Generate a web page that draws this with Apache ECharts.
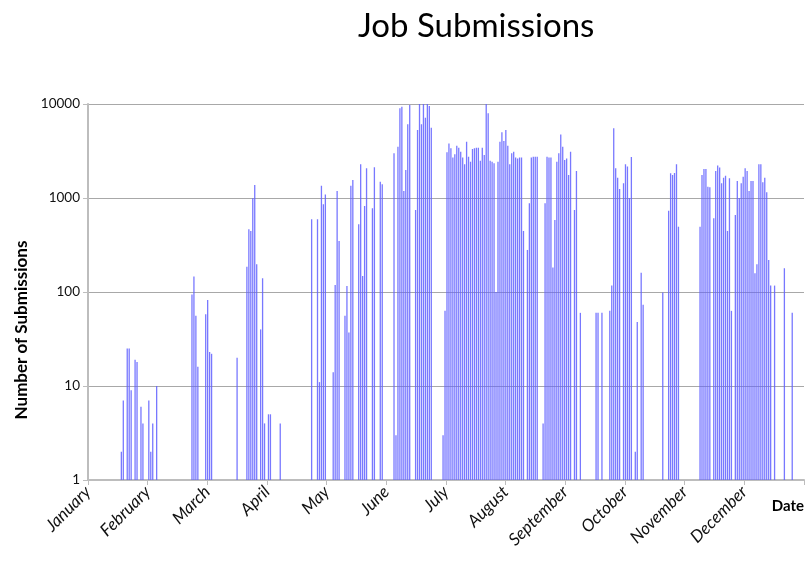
<!DOCTYPE html>
<html>
<head>
<meta charset="utf-8">
<script src="https://cdn.jsdelivr.net/npm/echarts@6/dist/echarts.min.js"></script>
<style>
  html, body { margin: 0; padding: 0; background: #fff; }
  #chart { width: 807px; height: 564px; }
</style>
</head>
<body>
<div id="chart"></div>
<script>
// Daily job submissions, one list per month: [day of month, submissions]
const jan = [[18,2],[19,7],[21,25],[22,25],[23,9],[25,19],[26,18],[28,6],[29,4]];
const feb = [[1,7],[2,2],[3,4],[5,10],[23,94],[24,146],[25,56],[26,16]];
const mar = [[2,58],[3,82],[4,23],[5,22],[18,20],[23,186],[24,464],[25,446],[26,993],[27,1375],[28,197],[30,40],[31,140]];
const apr = [[1,4],[3,5],[4,5],[9,4],[25,593],[28,593],[29,11],[30,1350]];
const may = [[1,857],[2,1090],[6,14],[7,119],[8,1186],[9,348],[12,56],[13,116],[14,37],[15,1350],[16,1550],
             [19,526],[20,2280],[21,148],[22,822],[23,2070],[26,777],[27,2130],[30,1490],[31,1397]];
const jun = [[6,2985],[7,3],[8,3515],[9,9000],[10,9370],[11,1186],[12,1985],[13,6090],[14,9760],
             [17,745],[18,5300],[19,10500],[20,6090],[21,10500],[22,7150],[23,10500],[24,9500],[25,5600]];
const jul = [[1,3],[2,63],[3,3060],[4,3800],[5,3375],[6,2690],[7,2920],[8,3600],[9,3430],[10,3110],
             [11,2690],[12,2280],[13,3975],[14,2755],[15,2435],[16,3320],[17,3375],[18,3430],[19,3430],[20,2490],
             [21,3430],[22,2865],[23,10170],[24,7950],[25,2490],[26,2435],[27,2340],[28,100],[29,2435],[30,3975],[31,5000]];
const aug = [[1,4040],[2,5290],[3,3600],[4,2280],[5,2985],[6,3110],[7,2690],[8,2630],[9,2690],[10,2690],
             [11,446],[13,280],[14,878],[15,2690],[16,2755],[17,2755],[18,2755],
             [21,4],[22,878],[23,2755],[24,2690],[25,2690],[26,182],[27,583],[28,2435],[29,2985],[30,4750],[31,3515]];
const sep = [[1,2537],[2,2630],[3,1757],[4,3110],[6,745],[7,1937],[9,60],[17,60],[18,60],[20,60],
             [24,63],[25,117],[26,5510],[27,2070],[28,1645],[29,1248]];
const oct = [[1,1433],[2,2280],[3,2160],[4,1000],[5,2730],[7,2],[8,48],[10,160],[11,73],[21,99],
             [24,733],[25,1830],[26,1757],[27,1850],[28,2290],[29,495]];
const nov = [[9,495],[10,1757],[11,2035],[12,2035],[13,1320],[14,1300],[16,608],[17,1937],[18,2220],[19,2110],
             [20,1433],[21,1645],[22,1727],[23,446],[24,1620],[25,63],[27,659],[28,1515],[29,1000],[30,1433]];
const dec = [[1,1686],[2,2070],[3,1937],[4,1186],[5,1515],[6,1515],[7,158],[8,197],[9,2280],[10,2280],
             [11,1470],[12,1645],[13,1150],[14,219],[15,117],[17,117],[22,179],[26,60]];

const monthNames = ['January','February','March','April','May','June','July',
                    'August','September','October','November','December'];
const monthLengths = [31,28,31,30,31,30,31,31,30,31,30,31];
const yTicks = [1, 10, 100, 1000, 10000];

// Flatten the month lists into [day of year, submissions]
const monthly = [jan, feb, mar, apr, may, jun, jul, aug, sep, oct, nov, dec];
const daily = [];
let offset = 0;
monthly.forEach((list, i) => {
  list.forEach(([day, n]) => daily.push([offset + day - 1, n]));
  offset += monthLengths[i];
});
const yearDays = offset;
const monthStep = yearDays / 12;

const chart = echarts.init(document.getElementById('chart'), null, { renderer: 'canvas' });
const baseFont = 'Lato, "Open Sans", sans-serif';

chart.setOption({
  animation: false,
  backgroundColor: '#ffffff',
  title: {
    text: 'Job Submissions',
    left: 353,
    top: 5,
    textStyle: { fontFamily: baseFont, fontWeight: 'normal', fontSize: 33, color: '#000' }
  },
  grid: { left: 88, right: 3, top: 104, bottom: 84, containLabel: false },
  xAxis: {
    type: 'value',
    min: 0,
    max: yearDays,
    interval: monthStep,
    name: 'Date',
    nameLocation: 'end',
    nameGap: 0,
    nameTextStyle: {
      fontFamily: baseFont, fontWeight: 'bold', fontSize: 15, color: '#000',
      align: 'right', verticalAlign: 'top', padding: [19, 0, 0, 0]
    },
    axisLine: { show: true, lineStyle: { color: '#bdbdbd', width: 2 } },
    axisTick: { show: true, length: 5, lineStyle: { color: '#bdbdbd', width: 1 } },
    splitLine: { show: false },
    axisLabel: {
      rotate: 45,
      margin: 9,
      fontFamily: baseFont,
      fontStyle: 'italic',
      fontSize: 17,
      color: '#111',
      formatter: v => monthNames[Math.round(v / monthStep)] || ''
    }
  },
  yAxis: {
    type: 'log',
    logBase: 10,
    min: yTicks[0],
    max: yTicks[yTicks.length - 1],
    axisLine: { show: true, lineStyle: { color: '#bdbdbd', width: 2 } },
    axisTick: { show: true, length: 5, lineStyle: { color: '#bdbdbd' } },
    splitLine: { show: true, lineStyle: { color: '#a8a8a8', width: 1 } },
    axisLabel: {
      margin: 8,
      fontFamily: baseFont,
      fontSize: 13.5,
      color: '#111',
      formatter: v => String(Math.round(v))
    }
  },
  graphic: [{
    type: 'text',
    x: 22,
    y: 330,
    rotation: Math.PI / 2,
    style: {
      text: 'Number of Submissions',
      fontFamily: baseFont,
      fontWeight: 'bold',
      fontSize: 17,
      fill: '#000',
      align: 'center',
      verticalAlign: 'middle'
    }
  }],
  series: [{
    type: 'bar',
    data: daily,
    barWidth: 1.3,
    itemStyle: { color: 'rgba(96, 96, 255, 0.85)' },
    silent: true
  }]
});
</script>
</body>
</html>
